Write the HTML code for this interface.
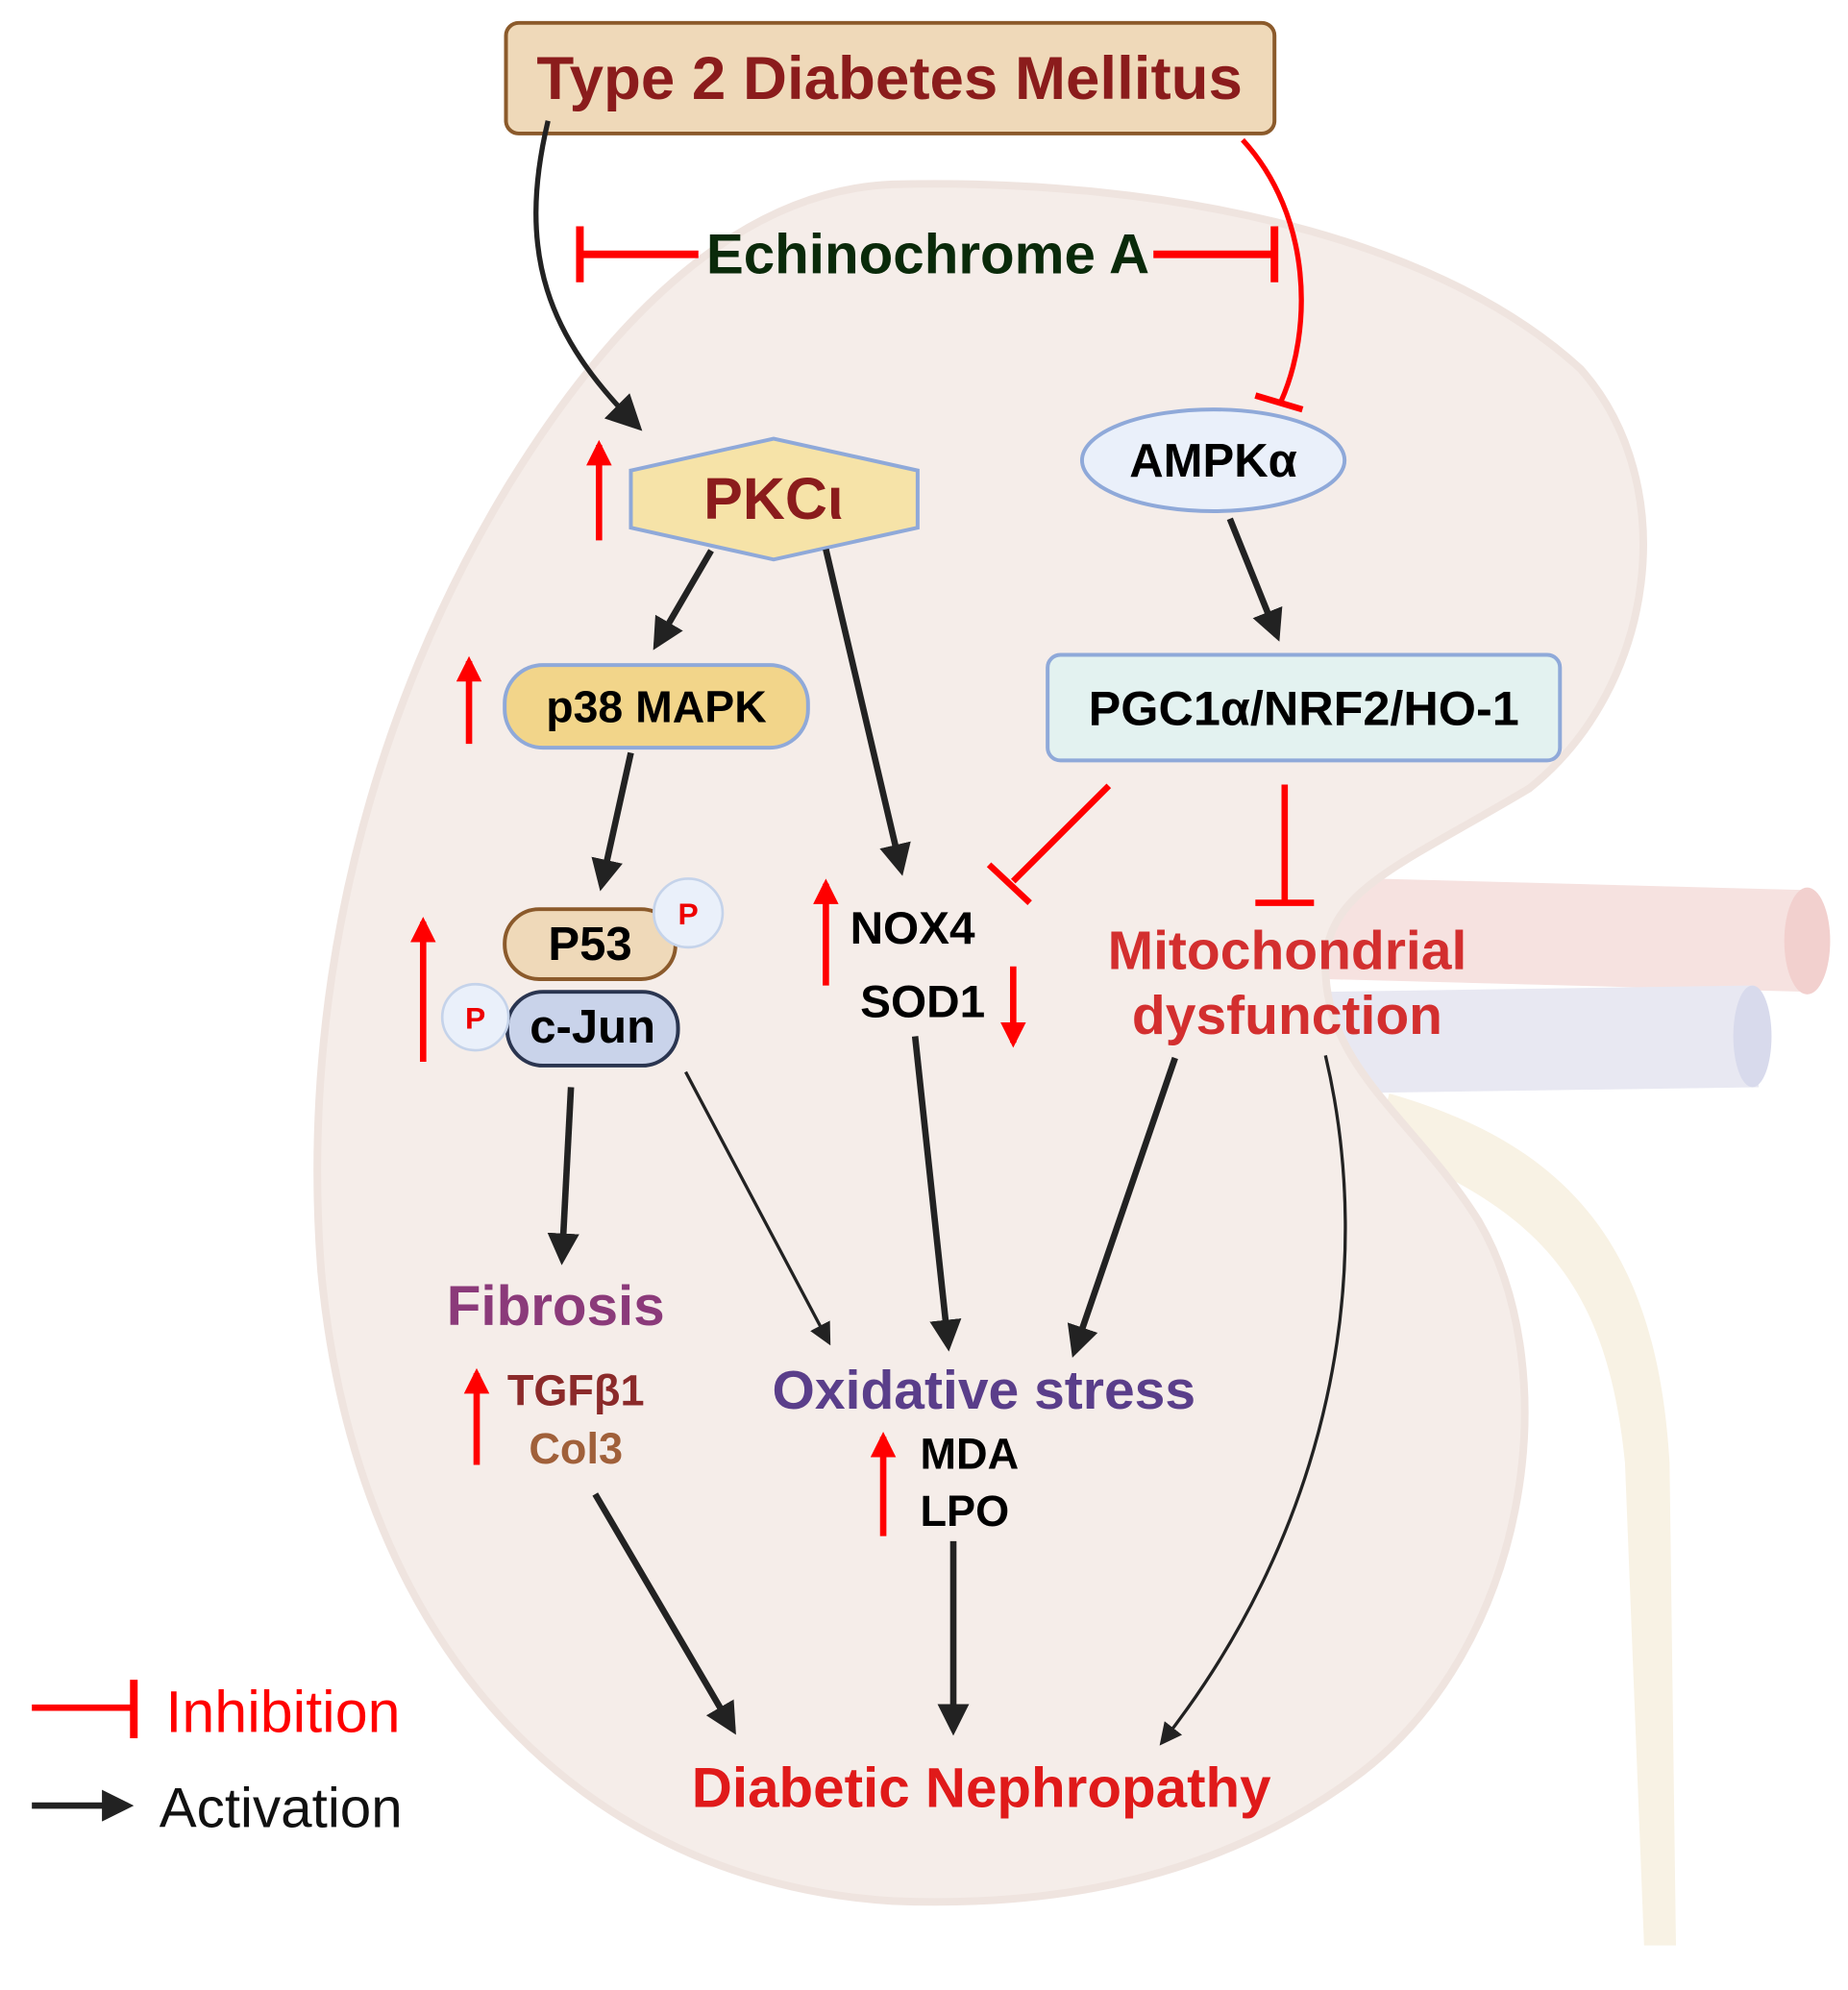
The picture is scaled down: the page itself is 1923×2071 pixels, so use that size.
<!DOCTYPE html>
<html><head><meta charset="utf-8"><style>
html,body{margin:0;padding:0;background:#fff;}
svg{display:block;}
text{font-family:"Liberation Sans",Arial,sans-serif;font-weight:bold;}
</style></head><body>
<svg width="1923" height="2071" viewBox="0 0 1450 1565" preserveAspectRatio="none" xmlns="http://www.w3.org/2000/svg">
<defs>
<marker id="ah" viewBox="0 0 10 10" refX="8" refY="5" markerWidth="5" markerHeight="5" orient="auto"><path d="M0,0 L10,5 L0,10 z" fill="#222"/></marker>
<marker id="ah2" viewBox="0 0 10 10" refX="8" refY="5" markerWidth="7" markerHeight="7" orient="auto"><path d="M0,0 L10,5 L0,10 z" fill="#222"/></marker>
<marker id="ra" viewBox="0 0 10 10" refX="8" refY="5" markerWidth="4" markerHeight="4" orient="auto"><path d="M0,0 L10,5 L0,10 z" fill="#f00"/></marker>
</defs>
<!-- ureter -->
<path d="M1080,900 C1200,950 1260,1000 1275,1150 L1290,1530 L1315,1530 L1310,1150 C1300,980 1230,900 1090,860 z" fill="#f8f2e4"/>
<!-- artery / vein -->
<path d="M1040,690 L1420,700 L1420,780 L1040,770 z" fill="#f6e2e0"/>
<ellipse cx="1418" cy="740" rx="18" ry="42" fill="#f2d0ce"/>
<path d="M1040,780 L1375,775 L1380,855 L1040,860 z" fill="#e8e8f2"/>
<ellipse cx="1375" cy="815" rx="15" ry="40" fill="#d8daec"/>
<!-- kidney -->
<path d="M700,145 C900,140 1120,180 1240,290 C1320,380 1300,540 1200,620 C1100,680 1040,700 1040,760 C1040,840 1110,880 1160,960 C1230,1080 1200,1300 1060,1400 C950,1480 820,1500 700,1495 C460,1480 280,1300 252,1000 C235,780 290,560 400,380 C480,250 580,150 700,145 z" fill="#f5ede9" stroke="#efe4df" stroke-width="6"/>
<!-- title -->
<rect x="397" y="18" width="603" height="87" rx="10" fill="#efd9b9" stroke="#8b5a2b" stroke-width="3"/>
<text x="698" y="78" font-size="48" fill="#8b1c1c" text-anchor="middle">Type 2 Diabetes Mellitus</text>
<!-- echinochrome -->
<text x="728" y="215" font-size="44" fill="#0a2a0a" text-anchor="middle">Echinochrome A</text>
<g stroke="#f00" stroke-width="6" fill="none">
<line x1="455" y1="200" x2="548" y2="200"/><line x1="455" y1="178" x2="455" y2="222"/>
<line x1="905" y1="200" x2="1000" y2="200"/><line x1="1000" y1="178" x2="1000" y2="222"/>
<path d="M975,110 C1030,170 1030,260 1005,316" stroke-width="4"/>
<line x1="985" y1="311" x2="1022" y2="322" stroke-width="5"/>
<line x1="870" y1="618" x2="795" y2="693" stroke-width="5"/>
<line x1="776" y1="680" x2="808" y2="710" stroke-width="5"/>
<line x1="1008" y1="617" x2="1008" y2="710" stroke-width="5"/>
<line x1="985" y1="710" x2="1031" y2="710" stroke-width="5"/>
</g>
<!-- black curve -->
<path d="M430,95 C405,200 430,265 500,335" stroke="#222" stroke-width="4" fill="none" marker-end="url(#ah2)"/>
<!-- PKC -->
<polygon points="495,370 607,345 720,370 720,415 607,440 495,415" fill="#f6e3a8" stroke="#8fa9d9" stroke-width="3"/>
<text x="607" y="408" font-size="46" fill="#8b1c1c" text-anchor="middle">PKCι</text>
<!-- AMPK -->
<ellipse cx="952" cy="362" rx="103" ry="40" fill="#eaf0fa" stroke="#8fa9d9" stroke-width="3"/>
<text x="952" y="375" font-size="37" fill="#000" text-anchor="middle">AMPKα</text>
<!-- PGC -->
<rect x="822" y="515" width="402" height="83" rx="10" fill="#e3f2f0" stroke="#8fa9d9" stroke-width="3"/>
<text x="1023" y="570" font-size="38" fill="#000" text-anchor="middle">PGC1α/NRF2/HO-1</text>
<!-- p38 -->
<rect x="396" y="523" width="238" height="65" rx="30" fill="#f2d58a" stroke="#8fa9d9" stroke-width="3"/>
<text x="515" y="568" font-size="35" fill="#000" text-anchor="middle">p38 MAPK</text>
<!-- P53 / cJun -->
<rect x="396" y="715" width="134" height="55" rx="27" fill="#efd9b9" stroke="#8b5a2b" stroke-width="3"/>
<text x="463" y="755" font-size="37" fill="#000" text-anchor="middle">P53</text>
<circle cx="540" cy="718" r="27" fill="#eaf0fa" stroke="#c5d3ea" stroke-width="2"/>
<text x="540" y="727" font-size="24" fill="#e00" text-anchor="middle">P</text>
<rect x="398" y="780" width="134" height="58" rx="28" fill="#c9d3ea" stroke="#2a3550" stroke-width="3"/>
<text x="465" y="820" font-size="37" fill="#000" text-anchor="middle">c-Jun</text>
<circle cx="373" cy="800" r="26" fill="#eaf0fa" stroke="#c5d3ea" stroke-width="2"/>
<text x="373" y="809" font-size="24" fill="#e00" text-anchor="middle">P</text>
<!-- NOX4 SOD1 -->
<text x="667" y="742" font-size="36" fill="#000">NOX4</text>
<text x="675" y="800" font-size="36" fill="#000">SOD1</text>
<text x="1010" y="762" font-size="43" fill="#d32f2f" text-anchor="middle">Mitochondrial</text>
<text x="1010" y="813" font-size="43" fill="#d32f2f" text-anchor="middle">dysfunction</text>
<!-- outcomes -->
<text x="436" y="1042" font-size="44" fill="#8b3a7a" text-anchor="middle">Fibrosis</text>
<text x="398" y="1105" font-size="34" fill="#8b2a2a">TGFβ1</text>
<text x="415" y="1151" font-size="34" fill="#a0603a">Col3</text>
<text x="772" y="1108" font-size="43" fill="#5a3e8a" text-anchor="middle">Oxidative stress</text>
<text x="722" y="1155" font-size="34" fill="#000">MDA</text>
<text x="722" y="1200" font-size="34" fill="#000">LPO</text>
<text x="770" y="1421" font-size="44" fill="#e01a1a" text-anchor="middle">Diabetic Nephropathy</text>
<!-- black arrows -->
<g stroke="#222" stroke-width="5" fill="none" marker-end="url(#ah)">
<line x1="965" y1="408" x2="1002" y2="500"/>
<line x1="558" y1="433" x2="515" y2="507"/>
<line x1="648" y1="432" x2="707" y2="684"/>
<line x1="495" y1="592" x2="472" y2="696"/>
<line x1="448" y1="855" x2="441" y2="990"/>
<line x1="718" y1="815" x2="744" y2="1058"/>
<line x1="922" y1="832" x2="843" y2="1063"/>
<line x1="467" y1="1175" x2="575" y2="1360"/>
<line x1="748" y1="1212" x2="748" y2="1360"/>
</g>
<g stroke="#222" stroke-width="2.5" fill="none" marker-end="url(#ah2)">
<line x1="538" y1="843" x2="650" y2="1055"/>
<path d="M1040,830 C1080,1000 1045,1200 912,1370"/>
</g>
<!-- red up/down arrows -->
<g stroke="#f00" stroke-width="5" fill="none" marker-end="url(#ra)">
<line x1="470" y1="425" x2="470" y2="350"/>
<line x1="368" y1="585" x2="368" y2="520"/>
<line x1="332" y1="835" x2="332" y2="725"/>
<line x1="648" y1="775" x2="648" y2="695"/>
<line x1="795" y1="760" x2="795" y2="820"/>
<line x1="374" y1="1152" x2="374" y2="1080"/>
<line x1="693" y1="1208" x2="693" y2="1130"/>
</g>
<!-- legend -->
<line x1="25" y1="1343" x2="105" y2="1343" stroke="#f00" stroke-width="5"/>
<line x1="105" y1="1321" x2="105" y2="1367" stroke="#f00" stroke-width="6"/>
<text x="130" y="1362" font-size="46" style="font-weight:normal" fill="#f00">Inhibition</text>
<line x1="25" y1="1420" x2="100" y2="1420" stroke="#222" stroke-width="5" marker-end="url(#ah)"/>
<text x="125" y="1437" font-size="44" style="font-weight:normal" fill="#111">Activation</text>
</svg>
</body></html>
